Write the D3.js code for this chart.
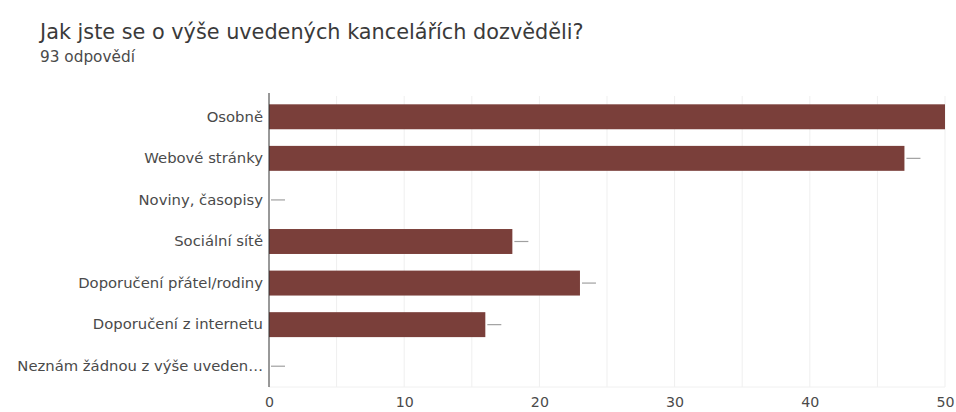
<!DOCTYPE html>
<html>
<head>
<meta charset="utf-8">
<script src="https://cdn.jsdelivr.net/npm/d3@7"></script>
<style>
  html, body { margin: 0; padding: 0; background: #fff; }
  svg { display: block; font-family: "DejaVu Sans", "Liberation Sans", Arial, sans-serif; }
</style>
</head>
<body>
<svg id="chart" width="956" height="412"></svg>
<script>
// Survey answers (multiple choice, counts of respondents)
const categories = [
  "Osobně",
  "Webové stránky",
  "Noviny, časopisy",
  "Sociální sítě",
  "Doporučení přátel/rodiny",
  "Doporučení z internetu",
  "Neznám žádnou z výše uveden…"
];
const counts = [50, 47, 0, 18, 23, 16, 0];
const xTicks = [0, 10, 20, 30, 40, 50];
const gridValues = [5, 10, 15, 20, 25, 30, 35, 40, 45, 50];
const title = "Jak jste se o výše uvedených kancelářích dozvěděli?";
const subtitle = "93 odpovědí";

const data = categories.map((c, i) => ({ category: c, value: counts[i] }));

const svg = d3.select("#chart");
const margin = { top: 96, right: 11, bottom: 25, left: 269 };
const width = 956, height = 412;
const font = "'DejaVu Sans', 'Liberation Sans', Arial, sans-serif";

const x = d3.scaleLinear().domain([0, 50]).range([margin.left, width - margin.right]);
const y = d3.scaleBand().domain(categories)
  .range([margin.top, height - margin.bottom])
  .paddingInner(0.4).paddingOuter(0.2);

// Header
svg.append("text").attr("x", 40).attr("y", 39)
  .attr("font-size", 20.8).attr("fill", "#3a3a3a").text(title);
svg.append("text").attr("x", 40).attr("y", 62)
  .attr("font-size", 15.3).attr("fill", "#4a4a4a").text(subtitle);

// Vertical gridlines
svg.append("g").selectAll("line").data(gridValues).join("line")
  .attr("x1", d => x(d)).attr("x2", d => x(d))
  .attr("y1", margin.top).attr("y2", height - margin.bottom)
  .attr("stroke", "#efefef").attr("stroke-width", 1);

// Faint baseline under the plot
svg.append("line")
  .attr("x1", x(0)).attr("x2", x(50))
  .attr("y1", height - margin.bottom).attr("y2", height - margin.bottom)
  .attr("stroke", "#f0f0f0");

// Bars
svg.append("g").selectAll("rect").data(data).join("rect")
  .attr("x", x(0))
  .attr("y", d => y(d.category))
  .attr("width", d => x(d.value) - x(0))
  .attr("height", y.bandwidth())
  .attr("fill", "#7a3f3a");

// Short value markers after each bar end
svg.append("g").selectAll("line").data(data.filter(d => d.value < 50)).join("line")
  .attr("x1", d => x(d.value) + 2)
  .attr("x2", d => x(d.value) + 16)
  .attr("y1", d => y(d.category) + y.bandwidth() / 2)
  .attr("y2", d => y(d.category) + y.bandwidth() / 2)
  .attr("stroke", "#a0a0a0").attr("stroke-width", 1.2);

// Category axis
const yAxis = svg.append("g")
  .attr("transform", `translate(${x(0)},0)`)
  .call(d3.axisLeft(y).tickSize(0).tickPadding(6));
yAxis.select(".domain").attr("stroke", "#333")
  .attr("d", `M0,${margin.top - 3}V${height - margin.bottom}`);
yAxis.selectAll("text").attr("font-size", 14.8).attr("fill", "#4a4a4a")
  .attr("font-family", font);

// Value axis
const xAxis = svg.append("g")
  .attr("transform", `translate(0,${height - margin.bottom})`)
  .call(d3.axisBottom(x).tickValues(xTicks).tickSize(0).tickPadding(10).tickFormat(d3.format("d")));
xAxis.select(".domain").remove();
xAxis.selectAll("text").attr("font-size", 14.2).attr("fill", "#4a4a4a")
  .attr("font-family", font);
</script>
</body>
</html>
